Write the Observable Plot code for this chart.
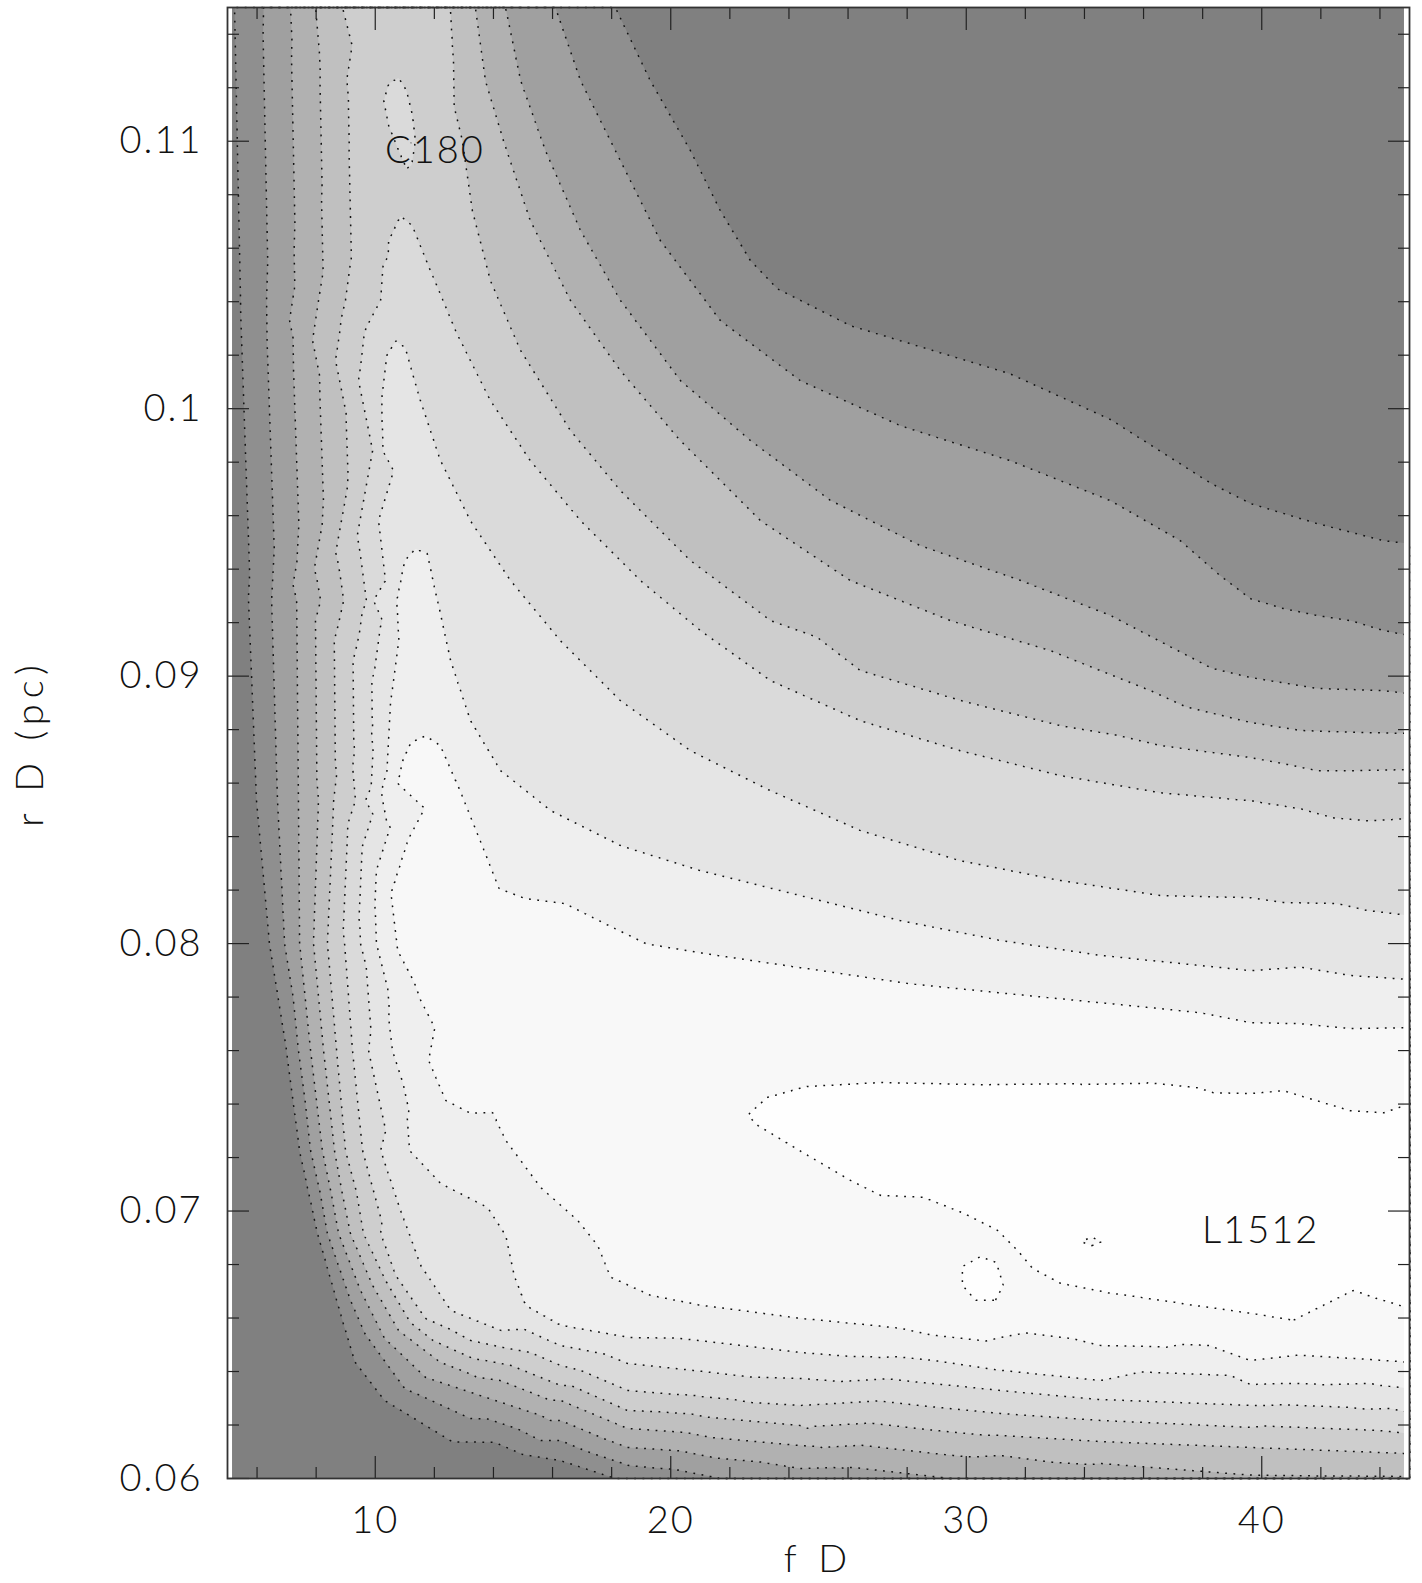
<!DOCTYPE html>
<html><head><meta charset="utf-8">
<script src="https://cdn.jsdelivr.net/npm/d3@7"></script>
<script src="https://cdn.jsdelivr.net/npm/@observablehq/plot@0.6"></script>
<style>body{margin:0;background:#fff;} svg{display:block} svg text{letter-spacing:2px}</style>
</head><body><div id="chart"></div>
<script>
// Axis domains and ticks
const fDomain = [5, 45];
const rDomain = [0.06, 0.115];
const fSampled = [5.17, 44.83];            // extent of the map itself
const fMajor = [10, 20, 30, 40];
const fMinor = [6, 8, 12, 14, 16, 18, 22, 24, 26, 28, 32, 34, 36, 38, 42, 44];
const rMajor = [0.06, 0.07, 0.08, 0.09, 0.1, 0.11];
const rMinor = [0.062, 0.064, 0.066, 0.068, 0.072, 0.074, 0.076, 0.078, 0.082, 0.084, 0.086, 0.088,
                0.092, 0.094, 0.096, 0.098, 0.102, 0.104, 0.106, 0.108, 0.112, 0.114];
const levels = [0.5, 1.5, 2.5, 3.5, 4.5, 5.5, 6.5, 7.5, 8.5, 9.5];
const shades = ["#808080","#8f8f8f","#a0a0a0","#b1b1b1","#c0c0c0","#cecece","#dadada","#e5e5e5","#efefef","#f8f8f8","#fefefe"];

// Contour lines: [f, r]
const line05a = [[5.24,0.115],[5.44,0.10405],[5.71,0.09283],[5.98,0.08535],[6.42,0.08],[7.0,0.076],[7.44,0.07226],[8.05,0.06916],[8.96,0.06565],[10.31,0.06292],[11.87,0.06187],[14.04,0.06135],[16.27,0.06067],[18.13,0.06]];
const line05b = [[18.13,0.115],[19.31,0.11227],[20.67,0.10965],[21.68,0.10741],[22.7,0.10554],[23.61,0.10449],[26.08,0.10311],[31.46,0.10132],[34.88,0.0996],[38.3,0.0972],[39.62,0.09646],[41.88,0.09571],[44.12,0.09507],[45,0.09496]];
const line15a = [[6.22,0.115],[6.32,0.10405],[6.49,0.09283],[6.69,0.08535],[6.93,0.08],[7.4,0.076],[7.81,0.07226],[8.38,0.06916],[9.16,0.06666],[10.18,0.0646],[11.53,0.0631],[13.22,0.06224],[15.59,0.06142],[18.54,0.06049],[21.68,0.06]];
const line15b = [[16.1,0.115],[16.95,0.11227],[18.13,0.10965],[19.65,0.10629],[21.68,0.1033],[24.39,0.10105],[27.78,0.09937],[31.5,0.09806],[34.88,0.09657],[37.25,0.09507],[38.6,0.09376],[39.62,0.0929],[40.74,0.09253],[41.88,0.09227],[43.0,0.09208],[44.12,0.09171],[45,0.09152]];
const line25a = [[7.13,0.115],[7.2,0.10405],[7.34,0.09283],[7.4,0.08535],[7.44,0.08],[7.81,0.076],[8.21,0.07226],[8.76,0.06916],[9.5,0.06703],[10.35,0.06516],[11.7,0.06378],[13.56,0.0631],[15.59,0.06236],[18.54,0.06116],[24.39,0.06037],[29.47,0.06]];
const line25b = [[14.41,0.115],[14.92,0.11227],[15.76,0.10965],[16.95,0.10666],[18.3,0.10405],[20.33,0.10105],[22.7,0.09881],[25.41,0.09657],[28.45,0.09488],[31.84,0.09358],[34.88,0.09227],[38.3,0.0903],[39.62,0.08995],[41.88,0.08954],[44.12,0.08946],[45,0.08935]];
const line35a = [[7.98,0.115],[8.08,0.10405],[8.15,0.09283],[8.08,0.08535],[7.91,0.08],[8.25,0.076],[8.62,0.07226],[9.16,0.06916],[9.91,0.06722],[10.79,0.06553],[12.21,0.06434],[14.24,0.06366],[16.27,0.06292],[18.54,0.06187],[24.39,0.06123],[31.16,0.06086],[34.54,0.06056],[39.79,0.06011],[45,0.06007]];
const line35b = [[13.39,0.115],[13.73,0.11227],[14.34,0.11003],[15.25,0.10704],[16.61,0.10405],[18.3,0.10143],[20.33,0.09881],[23.04,0.09582],[26.08,0.09358],[29.47,0.09208],[32.85,0.09096],[36.24,0.08946],[39.62,0.08827],[41.31,0.08797],[43.58,0.08789],[45,0.08786]];
const line45a = [[8.89,0.115],[8.99,0.10405],[8.93,0.09283],[8.59,0.08535],[8.38,0.08],[8.69,0.076],[8.99,0.07226],[9.6,0.06916],[10.35,0.0674],[11.19,0.06583],[12.55,0.06486],[14.58,0.06423],[16.27,0.06348],[18.54,0.06254],[24.39,0.06198],[31.16,0.06161],[34.54,0.06138],[39.62,0.06116],[45,0.06093]];
const line45b = [[12.55,0.115],[12.65,0.11302],[12.95,0.11003],[13.29,0.10741],[13.9,0.10479],[14.92,0.10218],[16.61,0.09918],[18.3,0.09694],[20.67,0.09432],[23.38,0.09208],[26.42,0.09021],[29.81,0.08909],[33.19,0.08815],[36.57,0.08741],[39.62,0.08696],[40.74,0.08673],[41.88,0.08647],[43.0,0.08647],[45,0.08651]];
const line55 = [[10.85,0.10722],[10.45,0.10629],[10.18,0.10405],[9.91,0.09844],[9.7,0.09283],[9.33,0.08535],[8.96,0.08],[9.23,0.076],[9.57,0.07226],[10.18,0.06916],[10.69,0.06759],[11.7,0.06598],[13.22,0.06516],[15.25,0.06471],[16.95,0.06404],[18.54,0.06329],[24.39,0.06273],[31.16,0.06243],[34.54,0.06217],[39.62,0.06191],[45,0.06168],
  [11.26,0.10685],[11.87,0.10517],[12.72,0.10292],[13.9,0.10031],[15.25,0.09806],[16.95,0.09582],[18.98,0.09358],[21.01,0.09171],[23.38,0.08984],[26.42,0.08834],[29.81,0.08722],[33.19,0.08629],[36.57,0.08565],[39.62,0.08535],[41.31,0.08505],[42.43,0.08471],[43.58,0.0846],[45,0.08468]];
const loopC180 = [[10.79,0.11238],[11.06,0.1119],[11.26,0.11097],[11.36,0.11003],[11.23,0.10909],[11.06,0.10898],[10.79,0.10965],[10.45,0.11059],[10.28,0.11152],[10.45,0.11216]];
const line65 = [[10.69,0.10255],[10.38,0.10199],[10.21,0.10031],[10.25,0.09844],[10.11,0.09582],[9.94,0.09283],[9.67,0.08535],[9.5,0.08],[9.77,0.076],[10.18,0.07226],[10.85,0.07002],[11.53,0.06796],[12.55,0.06628],[14.24,0.06553],[16.27,0.06497],[18.54,0.0643],[24.39,0.06374],[31.16,0.06329],[34.54,0.06295],[39.62,0.06273],[45,0.06247],
  [11.02,0.10229],[11.53,0.10031],[12.21,0.09806],[13.22,0.09582],[14.58,0.09358],[16.27,0.09133],[18.3,0.08909],[20.67,0.08722],[23.38,0.08572],[26.42,0.08423],[29.81,0.0831],[33.19,0.08236],[36.57,0.0818],[39.62,0.08172],[40.74,0.08154],[42.56,0.0815],[43.58,0.08124],[45,0.08105]];
const line75 = [[11.36,0.09477],[10.99,0.09432],[10.72,0.09283],[10.79,0.09133],[10.52,0.08909],[10.25,0.08535],[10.04,0.08],[10.58,0.076],[11.16,0.07226],[12.21,0.07103],[13.8,0.07013],[14.41,0.06909],[14.71,0.06752],[15.08,0.06647],[16.27,0.06572],[18.54,0.06527],[24.39,0.06471],[31.16,0.06404],[34.54,0.06366],[39.62,0.06351],[45,0.06337],
  [11.77,0.09459],[12.11,0.09283],[12.55,0.09058],[13.22,0.08834],[14.24,0.08647],[15.93,0.08498],[18.3,0.08367],[21.01,0.08273],[24.39,0.0818],[27.78,0.08086],[31.16,0.08012],[34.54,0.07956],[37.93,0.07918],[39.62,0.07899],[43.0,0.07881],[45,0.07866]];
const line85 = [[11.7,0.08778],[11.19,0.08752],[10.92,0.08685],[10.75,0.08599],[11.09,0.08385],[10.52,0.08187],[10.75,0.07974],[11.33,0.07851],[12.01,0.07686],[11.8,0.07563],[12.38,0.07413],[13.22,0.07365],[13.97,0.07368],[14.41,0.07264],[15.59,0.07088],[16.84,0.06965],[17.52,0.06871],[17.96,0.06752],[19.31,0.06684],[21.01,0.06647],[24.39,0.06598],[27.78,0.06561],[31.16,0.06527],[34.54,0.06497],[39.62,0.06441],[43.0,0.06449],[45,0.06434],
  [12.21,0.08741],[12.88,0.08572],[13.56,0.08385],[14.2,0.08206],[15.08,0.08169],[16.44,0.0815],[17.79,0.08075],[19.18,0.08],[21.21,0.07963],[24.63,0.07907],[28.05,0.07851],[31.46,0.07813],[34.88,0.07776],[37.93,0.07742],[39.62,0.07705],[41.31,0.07701],[43.0,0.07683],[45,0.07686]];
const line95 = [[22.6,0.07357],[23.27,0.07425],[24.63,0.07466],[27.1,0.07481],[30.48,0.07473],[33.87,0.07477],[36.13,0.07481],[37.83,0.07462],[38.37,0.07443],[39.62,0.0744],[40.74,0.07451],[41.88,0.07413],[43.0,0.07376],[44.12,0.07368],[45,0.07402],
  [22.94,0.0732],[24.63,0.07208],[26.08,0.07114],[27.1,0.07058],[28.55,0.07051],[29.91,0.06991],[31.06,0.06927],[31.73,0.06852],[32.24,0.06785],[33.19,0.06729],[34.88,0.06692],[37.25,0.06654],[39.62,0.06617],[41.07,0.06591],[42.66,0.06617],[43.1,0.06703],[43.75,0.06677],[44.69,0.06628],[45,0.06636]];
const loop30 = [[30.48,0.0683],[31.02,0.06808],[31.26,0.06722],[30.99,0.06666],[30.31,0.06666],[29.87,0.06722],[29.87,0.06793]];

// Spot values between the lines: [f, r, level]
const spots = [
  // dark corners
  [45,0.115,-3],[32,0.115,-2],[22,0.115,-1.5],[45,0.105,-1.5],[35,0.108,-1.5],[25,0.107,-0.7],[40,0.1,-0.5],
  [5,0.115,0.25],[5,0.104,0],[5,0.093,-0.4],[5,0.0854,-0.8],[5,0.08,-1.5],[5,0.072,-2],[5,0.06,-3],
  [10,0.06,-2.5],[14,0.06,-1.2],[8,0.064,-1],[12,0.0605,-0.5],
  [20,0.06,1.0],[26,0.06,2.0],[34,0.06,2.9],
  // level 5 band and C180
  [10.85,0.11377,5.2],[9.67,0.1107,5.1],[12.04,0.1107,5.1],[10.85,0.10815,5.3],
  [10.79,0.11197,5.6],[10.89,0.11115,5.75],[10.99,0.1104,5.8],[11.09,0.10959,5.7],
  [9.67,0.10592,5.0],[13.56,0.10292,5.0],[17.62,0.09646,5.0],[24.39,0.0904,5.0],[34.54,0.08696,5.0],[24.39,0.06224,5.0],
  // level 6 band
  [10.89,0.10659,5.6],[10.82,0.10562,5.75],[10.79,0.10479,5.95],[10.75,0.10375,6.2],[10.72,0.103,6.38],
  [11.87,0.1033,6.0],[14.24,0.09769,6.0],[19.31,0.09096,6.0],[27.78,0.08554,6.0],[37.93,0.08348,6.0],
  [21.01,0.06344,6.0],[34.54,0.06254,6.0],
  // level 7 band
  [10.82,0.10188,6.6],[10.85,0.10087,6.72],[10.92,0.09993,6.85],[10.99,0.099,6.97],[11.06,0.09806,7.1],
  [11.13,0.09713,7.22],[11.19,0.09619,7.35],[11.26,0.09537,7.42],
  [13.05,0.06852,7.0],[14.92,0.06602,7.0],[24.39,0.06415,7.0],[34.54,0.06329,7.0],
  [13.39,0.09283,7.0],[17.62,0.08692,7.0],[24.39,0.08385,7.0],[34.54,0.08093,7.0],[41.31,0.08012,7.0],
  // level 8 band
  [11.36,0.09414,7.6],[11.4,0.0932,7.72],[11.53,0.09227,7.85],[11.67,0.09133,7.97],[11.73,0.0904,8.1],
  [11.8,0.08946,8.22],[11.8,0.08853,8.38],
  [10.79,0.07787,8.0],[11.53,0.07413,8.0],[12.88,0.07189,8.0],[14.75,0.07058,8.0],[16.1,0.06796,8.0],[17.62,0.06695,8.0],
  [21.01,0.06572,8.0],[27.78,0.06497,8.0],[34.54,0.06434,8.0],[41.31,0.06396,8.0],
  [14.24,0.08535,8.0],[16.27,0.08329,8.0],[21.01,0.08124,8.0],[27.78,0.07974,8.0],[34.54,0.07881,8.0],[41.31,0.07813,8.0],
  // level 9 region
  [11.7,0.08715,8.6],[11.77,0.08629,8.68],[12.04,0.08498,8.76],[12.31,0.08367,8.83],[12.34,0.08236,8.88],
  [11.87,0.08049,8.9],[12.21,0.07787,8.95],
  [12.88,0.076,9.0],[14.58,0.07974,9.0],[16.27,0.07787,9.1],[19.31,0.076,9.25],[15.93,0.07376,9.1],
  [21.01,0.07226,9.35],[17.62,0.07226,9.2],[27.78,0.07675,9.15],[37.93,0.07619,9.05],[45,0.07544,9.1],
  [20.33,0.06965,9.2],[25.41,0.06852,9.2],[32.51,0.06628,9.1],[37.93,0.06553,9.0],[45,0.06535,9.0],[21.01,0.06852,9.1],
  [30.48,0.06894,9.3],[31.77,0.06778,9.3],[28.96,0.06871,9.3],[30.31,0.06591,9.2],
  // tongue around L1512, with its small hole
  [23.38,0.07405,9.7],[24.39,0.07368,9.9],[26.08,0.0732,10.0],[27.78,0.07301,10.1],[31.16,0.07226,10.2],
  [37.93,0.07114,10.3],[43.0,0.07039,10.3],[45,0.07039,10.2],[39.6,0.06852,10.2],[30.48,0.0674,9.8],
  [34.24,0.06886,9.4],[32.85,0.06886,9.8],[35.63,0.06886,9.8],[34.24,0.0695,9.8],[34.24,0.06823,9.8]
];

const labelText = ["C180", "L1512"];
const labelF = [12.02, 39.96];
const labelR = [0.10965, 0.06927];

const lineSets = [
  [0.5, line05a], [0.5, line05b], [1.5, line15a], [1.5, line15b], [2.5, line25a], [2.5, line25b],
  [3.5, line35a], [3.5, line35b], [4.5, line45a], [4.5, line45b], [5.5, line55], [5.5, loopC180],
  [6.5, line65], [7.5, line75], [8.5, line85], [9.5, line95], [9.5, loop30]
];
const points = [];
for (const [z, pts] of lineSets) for (const [f, r] of pts) points.push({f, r, z});
for (const [f, r, z] of spots) points.push({f, r, z});
// contour just above each level so that stretches lying exactly on a level stay outside
const cuts = levels.map(v => v + 0.002);

const font = {fontFamily: "Lato, Roboto, sans-serif", fontWeight: 300, fontSize: 38, fill: "#111"};
const tickStyle = {stroke: "#222", strokeWidth: 1.2, fill: "none", label: null};

const chart = Plot.plot({
  width: 1422, height: 1583,
  marginLeft: 227, marginRight: 13, marginTop: 7, marginBottom: 105,
  style: {fontFamily: font.fontFamily, fontWeight: 300, background: "#fff"},
  x: {domain: fDomain},
  y: {domain: rDomain},
  color: {type: "threshold", domain: levels, range: shades},
  marks: [
    Plot.frame({fill: shades[0]}),
    Plot.contour(points, {x: "f", y: "r", fill: "z", interpolate: "barycentric", thresholds: cuts, pixelSize: 1}),
    Plot.contour(points, {x: "f", y: "r", value: "z", interpolate: "barycentric", thresholds: cuts, pixelSize: 1,
      fill: "none", stroke: "#111", strokeWidth: 1.5, strokeDasharray: "1.8,6.5"}),
    Plot.rect([[fDomain[0], fSampled[0]], [fSampled[1], fDomain[1]]],
      {x1: d => d[0], x2: d => d[1], y1: rDomain[0], y2: rDomain[1], fill: "white"}),
    Plot.axisX(fMinor, {anchor: "bottom", tickSize: -11, ...tickStyle}),
    Plot.axisX(fMajor, {anchor: "bottom", tickSize: -22, ...tickStyle}),
    Plot.axisX(fMinor, {anchor: "top", tickSize: -11, ...tickStyle}),
    Plot.axisX(fMajor, {anchor: "top", tickSize: -22, ...tickStyle}),
    Plot.axisY(rMinor, {anchor: "left", tickSize: -12, ...tickStyle}),
    Plot.axisY(rMajor, {anchor: "left", tickSize: -22, ...tickStyle}),
    Plot.axisY(rMinor, {anchor: "right", tickSize: -12, ...tickStyle}),
    Plot.axisY(rMajor, {anchor: "right", tickSize: -22, ...tickStyle}),
    Plot.axisX(fMajor, {anchor: "bottom", tickSize: 0, tickPadding: 28, tickFormat: d => String(d), label: null, ...font}),
    Plot.axisY(rMajor, {anchor: "left", tickSize: 0, tickPadding: 25, tickFormat: d => String(d), label: null, ...font}),
    Plot.text(["f D"], {frameAnchor: "bottom", dy: 81, textAnchor: "middle", lineAnchor: "middle", ...font}),
    Plot.text(["r D (pc)"], {frameAnchor: "left", dx: -197, rotate: -90, textAnchor: "middle", lineAnchor: "middle", ...font}),
    Plot.text(labelText, {x: (d, i) => labelF[i], y: (d, i) => labelR[i], ...font}),
    Plot.frame({stroke: "#333", strokeWidth: 1.8})
  ]
});
// wider letter spacing for the two axis titles, as in the original lettering
d3.select(chart).selectAll("text").filter(function() { return this.textContent === "f D" || this.textContent === "r D (pc)"; })
  .style("letter-spacing", "6px");
document.getElementById("chart").append(chart);
</script>
</body></html>
